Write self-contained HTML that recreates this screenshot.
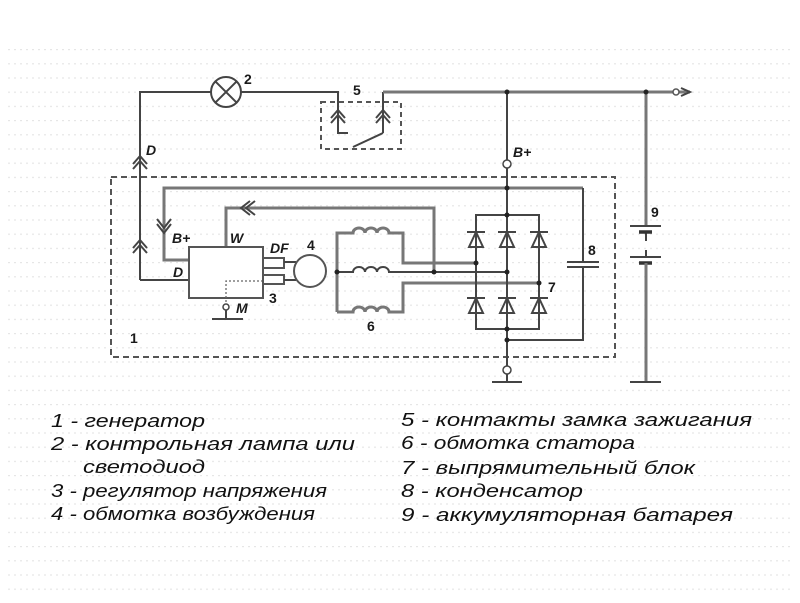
<!DOCTYPE html>
<html><head><meta charset="utf-8"><style>
html,body{margin:0;padding:0;background:#fff;}
svg{display:block;}
.w{stroke:#444;stroke-width:2;fill:none;}
.g{stroke:#777;stroke-width:3;fill:none;}
.lb{font-family:"Liberation Sans",sans-serif;font-weight:bold;font-size:14px;fill:#1a1a1a;}
.li{font-family:"Liberation Sans",sans-serif;font-weight:bold;font-style:italic;font-size:14px;fill:#1a1a1a;}
.lg{font-family:"Liberation Sans","Noto Sans CJK SC",sans-serif;font-style:italic;font-size:18px;fill:#111;}
</style></head><body>
<svg width="800" height="603" viewBox="0 0 800 603" xmlns="http://www.w3.org/2000/svg">
<defs>
<pattern id="gr" x="8" y="49" width="6" height="14.2" patternUnits="userSpaceOnUse">
<rect x="0" y="0" width="2" height="1.2" fill="#e6e6e6"/>
</pattern>
</defs>
<rect x="0" y="0" width="800" height="603" fill="#fff"/>
<rect x="8" y="49" width="784" height="545" fill="url(#gr)"/>

<!-- outer dashed box 1 -->
<rect x="111" y="177" width="504" height="180" fill="none" stroke="#555" stroke-width="2" stroke-dasharray="6,4"/>
<!-- switch dashed box 5 -->
<rect x="321" y="102" width="80" height="47" fill="none" stroke="#555" stroke-width="2" stroke-dasharray="5,4"/>

<!-- top wire left -->
<path class="w" d="M140,280 L140,92 L211,92"/>
<path class="w" d="M241,92 L338,92 L338,133 L348,133"/>
<!-- lamp -->
<circle cx="226" cy="92" r="15" fill="#fff" stroke="#444" stroke-width="2"/>
<path class="w" d="M215.4,81.4 L236.6,102.6 M236.6,81.4 L215.4,102.6"/>
<!-- switch right -->
<path class="w" d="M383,133 L383,92"/>
<path class="w" d="M383,133 L353,147"/>
<path class="g" d="M383,92 L690,92"/>
<circle cx="676" cy="92" r="3" fill="#fff" stroke="#555" stroke-width="1.5"/>
<path class="w" d="M681,88 L690,92 L681,96"/>
<!-- switch chevrons -->
<path class="w" d="M331,118 L338,110 L345,118 M331,123 L338,115 L345,123"/>
<path class="w" d="M376,118 L383,110 L390,118 M376,123 L383,115 L390,123"/>

<!-- D line chevrons -->
<path class="w" d="M133,164 L140,156 L147,164 M133,169 L140,161 L147,169"/>
<path class="w" d="M133,248 L140,240 L147,248 M133,253 L140,245 L147,253"/>
<path class="w" d="M140,280 L189,280"/>

<!-- B+ vertical main -->
<path class="w" d="M507,92 L507,160 M507,168 L507,366 M507,374 L507,382"/>
<circle cx="507" cy="164" r="4" fill="#fff" stroke="#444" stroke-width="1.5"/>
<circle cx="507" cy="370" r="4" fill="#fff" stroke="#444" stroke-width="1.5"/>
<path class="w" d="M492,382 L522,382"/>

<!-- inner top line and B+ to regulator -->
<path class="g" d="M583,188 L164,188 L164,260 L189,260"/>
<path class="w" d="M157,219 L164,228 L171,219 M157,224 L164,233 L171,224"/>

<!-- W line -->
<path class="g" d="M226,247 L226,208 L434,208 L434,272"/>
<path class="w" d="M250,201 L241,208 L250,215 M255,201 L246,208 L255,215"/>

<!-- regulator -->
<rect x="189" y="247" width="74" height="51" fill="#fff" stroke="#555" stroke-width="2"/>
<path d="M263,281 L226,281 L226,304" fill="none" stroke="#666" stroke-width="1.3" stroke-dasharray="2,2"/>
<circle cx="226" cy="307" r="3" fill="#fff" stroke="#444" stroke-width="1.5"/>
<path class="w" d="M226,310 L226,319 M212,319 L243,319"/>
<!-- DF connectors -->
<rect x="263" y="258" width="21" height="10" fill="#fff" stroke="#555" stroke-width="2"/>
<rect x="263" y="275" width="21" height="9" fill="#fff" stroke="#555" stroke-width="2"/>
<path class="w" d="M284,262 L296,262 M284,280 L296,280"/>
<circle cx="310" cy="271" r="16" fill="#fff" stroke="#555" stroke-width="2"/>

<!-- stator -->
<path class="g" d="M337,312 L337,233 L353,233 a6,5 0 0 1 12,0 a6,5 0 0 1 12,0 a6,5 0 0 1 12,0 L403,233 L403,263 L476,263"/>
<path class="w" d="M337,272 L353,272 a6,5 0 0 1 12,0 a6,5 0 0 1 12,0 a6,5 0 0 1 12,0 L507,272"/>
<path class="g" d="M337,312 L353,312 a6,5 0 0 1 12,0 a6,5 0 0 1 12,0 a6,5 0 0 1 12,0 L403,312 L403,283 L539,283"/>

<!-- rectifier -->
<rect x="476" y="215" width="63" height="114" fill="none" stroke="#444" stroke-width="2"/>
<path class="w" d="M507,215 L507,329"/>
<g stroke="#444" stroke-width="2" fill="none">
<path d="M467,232 L485,232 M476,232 L469,247 L483,247 Z"/>
<path d="M498,232 L516,232 M507,232 L500,247 L514,247 Z"/>
<path d="M530,232 L548,232 M539,232 L532,247 L546,247 Z"/>
<path d="M467,298 L485,298 M476,298 L469,313 L483,313 Z"/>
<path d="M498,298 L516,298 M507,298 L500,313 L514,313 Z"/>
<path d="M530,298 L548,298 M539,298 L532,313 L546,313 Z"/>
</g>

<!-- capacitor 8 -->
<path class="w" d="M583,188 L583,262 M567,262 L599,262 M567,267 L599,267 M583,267 L583,340 L507,340"/>

<!-- battery 9 -->
<path class="g" d="M646,92 L646,226"/>
<path class="w" d="M630,226 L661,226 M646,232 L646,241 M646,250 L646,257 M630,257 L661,257"/>
<path d="M639,232 L652,232 M639,263 L652,263" stroke="#333" stroke-width="3.5"/>
<path class="g" d="M646,263 L646,382"/>
<path class="w" d="M630,382 L661,382"/>

<!-- junction dots -->
<g fill="#222">
<circle cx="507" cy="92" r="2.5"/>
<circle cx="646" cy="92" r="2.5"/>
<circle cx="507" cy="188" r="2.5"/>
<circle cx="507" cy="215" r="2.5"/>
<circle cx="476" cy="263" r="2.5"/>
<circle cx="507" cy="272" r="2.5"/>
<circle cx="539" cy="283" r="2.5"/>
<circle cx="434" cy="272" r="2.5"/>
<circle cx="337" cy="272" r="2.5"/>
<circle cx="507" cy="329" r="2.5"/>
<circle cx="507" cy="340" r="2.5"/>
</g>

<!-- labels -->
<text class="lb" x="244" y="84">2</text>
<text class="lb" x="353" y="95">5</text>
<text class="li" x="146" y="155">D</text>
<text class="li" x="513" y="157">B+</text>
<text class="li" x="172" y="243">B+</text>
<text class="li" x="230" y="243">W</text>
<text class="li" x="270" y="253">DF</text>
<text class="lb" x="307" y="250">4</text>
<text class="li" x="173" y="277">D</text>
<text class="lb" x="269" y="303">3</text>
<text class="li" x="236" y="313">M</text>
<text class="lb" x="367" y="331">6</text>
<text class="lb" x="130" y="343">1</text>
<text class="lb" x="548" y="292">7</text>
<text class="lb" x="588" y="255">8</text>
<text class="lb" x="651" y="217">9</text>

<!-- legend -->
<text class="lg" x="51" y="427" textLength="154" lengthAdjust="spacingAndGlyphs">1 - генератор</text>
<text class="lg" x="51" y="450" textLength="304" lengthAdjust="spacingAndGlyphs">2 - контрольная лампа или</text>
<text class="lg" x="83" y="473" textLength="122" lengthAdjust="spacingAndGlyphs">светодиод</text>
<text class="lg" x="51" y="497" textLength="276" lengthAdjust="spacingAndGlyphs">3 - регулятор напряжения</text>
<text class="lg" x="51" y="520" textLength="264" lengthAdjust="spacingAndGlyphs">4 - обмотка возбуждения</text>
<text class="lg" x="401" y="426" textLength="351" lengthAdjust="spacingAndGlyphs">5 - контакты замка зажигания</text>
<text class="lg" x="401" y="449" textLength="234" lengthAdjust="spacingAndGlyphs">6 - обмотка статора</text>
<text class="lg" x="401" y="474" textLength="294" lengthAdjust="spacingAndGlyphs">7 - выпрямительный блок</text>
<text class="lg" x="401" y="497" textLength="182" lengthAdjust="spacingAndGlyphs">8 - конденсатор</text>
<text class="lg" x="401" y="521" textLength="332" lengthAdjust="spacingAndGlyphs">9 - аккумуляторная батарея</text>
</svg>
</body></html>
